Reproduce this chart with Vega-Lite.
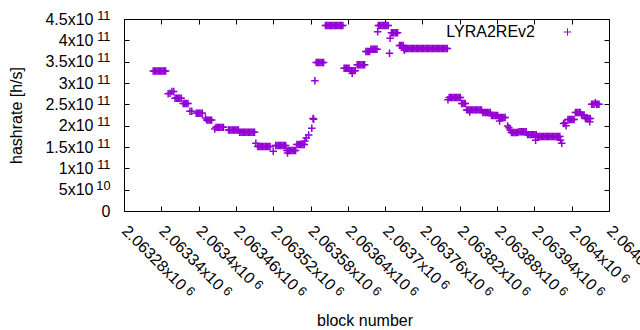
{
"$schema": "https://vega.github.io/schema/vega-lite/v6.json",
"width": 485, "height": 192,
"autosize": {"type": "none"},
"padding": {"left": 124, "top": 19, "right": 31, "bottom": 119},
"background": "white",
"config": {
 "view": {"stroke": "#000", "strokeWidth": 1},
 "font": "Liberation Sans",
 "axis": {"labelFont": "Liberation Sans", "labelFontSize": 16, "labelColor": "#000", "titleFont": "Liberation Sans", "titleFontSize": 16, "titleFontWeight": "normal", "titleColor": "#000", "grid": false, "domain": false, "tickColor": "#000", "tickSize": -5, "tickWidth": 1, "labelOverlap": false, "labelFlush": false, "labelBound": false},
 "legend": {"labelFont": "Liberation Sans", "labelFontSize": 16, "labelColor": "#000"}
},
"data": {"values": [
{"b":2063327,"h":3.28e11},{"b":2063329,"h":3.28e11},{"b":2063331,"h":3.28e11},{"b":2063333,"h":3.28e11},{"b":2063335,"h":3.28e11},{"b":2063337,"h":3.28e11},{"b":2063339,"h":3.28e11},{"b":2063341,"h":3.28e11},{"b":2063343,"h":3.28e11},{"b":2063345,"h":3.28e11},{"b":2063347,"h":3.28e11},
{"b":2063351,"h":2.75e11},{"b":2063354,"h":2.76e11},{"b":2063357,"h":2.8e11},{"b":2063360,"h":2.8e11},
{"b":2063362,"h":2.64e11},{"b":2063364,"h":2.64e11},{"b":2063366,"h":2.64e11},{"b":2063368,"h":2.64e11},{"b":2063370,"h":2.64e11},{"b":2063372,"h":2.64e11},
{"b":2063375,"h":2.52e11},{"b":2063377,"h":2.52e11},{"b":2063379,"h":2.52e11},{"b":2063381,"h":2.52e11},{"b":2063383,"h":2.52e11},
{"b":2063386,"h":2.34e11},{"b":2063389,"h":2.34e11},
{"b":2063396,"h":2.29e11},{"b":2063398,"h":2.29e11},{"b":2063400,"h":2.29e11},{"b":2063402,"h":2.29e11},{"b":2063404,"h":2.29e11},{"b":2063406,"h":2.29e11},
{"b":2063411,"h":2.18e11},
{"b":2063413,"h":2.13e11},{"b":2063415,"h":2.13e11},{"b":2063417,"h":2.13e11},{"b":2063419,"h":2.13e11},{"b":2063421,"h":2.13e11},
{"b":2063426,"h":1.92e11},{"b":2063428,"h":1.96e11},{"b":2063430,"h":1.96e11},{"b":2063432,"h":1.96e11},{"b":2063434,"h":1.96e11},{"b":2063436,"h":1.96e11},{"b":2063438,"h":1.96e11},{"b":2063440,"h":1.96e11},
{"b":2063448,"h":1.9e11},{"b":2063450,"h":1.9e11},{"b":2063452,"h":1.9e11},{"b":2063454,"h":1.9e11},{"b":2063456,"h":1.9e11},{"b":2063458,"h":1.9e11},{"b":2063460,"h":1.9e11},{"b":2063462,"h":1.9e11},{"b":2063464,"h":1.9e11},
{"b":2063466,"h":1.845e11},{"b":2063468,"h":1.845e11},{"b":2063470,"h":1.845e11},{"b":2063472,"h":1.845e11},{"b":2063474,"h":1.845e11},{"b":2063476,"h":1.845e11},{"b":2063478,"h":1.845e11},{"b":2063480,"h":1.845e11},{"b":2063482,"h":1.845e11},{"b":2063484,"h":1.845e11},{"b":2063486,"h":1.845e11},{"b":2063488,"h":1.845e11},{"b":2063490,"h":1.845e11},
{"b":2063492,"h":1.59e11},
{"b":2063495,"h":1.51e11},{"b":2063497,"h":1.51e11},{"b":2063499,"h":1.51e11},{"b":2063501,"h":1.51e11},{"b":2063503,"h":1.51e11},{"b":2063505,"h":1.51e11},{"b":2063507,"h":1.51e11},{"b":2063509,"h":1.51e11},{"b":2063511,"h":1.51e11},{"b":2063513,"h":1.51e11},{"b":2063515,"h":1.51e11},
{"b":2063520,"h":1.4e11},
{"b":2063524,"h":1.535e11},{"b":2063526,"h":1.535e11},{"b":2063528,"h":1.535e11},{"b":2063530,"h":1.535e11},{"b":2063532,"h":1.535e11},{"b":2063534,"h":1.535e11},{"b":2063536,"h":1.535e11},{"b":2063538,"h":1.535e11},{"b":2063540,"h":1.535e11},
{"b":2063542,"h":1.42e11},{"b":2063543,"h":1.36e11},{"b":2063544,"h":1.42e11},{"b":2063546,"h":1.42e11},{"b":2063548,"h":1.42e11},{"b":2063550,"h":1.42e11},{"b":2063552,"h":1.42e11},{"b":2063554,"h":1.42e11},{"b":2063556,"h":1.42e11},
{"b":2063558,"h":1.56e11},{"b":2063560,"h":1.56e11},{"b":2063562,"h":1.56e11},{"b":2063564,"h":1.56e11},{"b":2063566,"h":1.56e11},{"b":2063568,"h":1.56e11},{"b":2063570,"h":1.56e11},
{"b":2063571,"h":1.64e11},{"b":2063573,"h":1.71e11},{"b":2063577,"h":1.78e11},{"b":2063582,"h":1.94e11},{"b":2063584,"h":2.17e11},{"b":2063585,"h":2.15e11},{"b":2063587,"h":3.05e11},
{"b":2063589,"h":3.48e11},{"b":2063591,"h":3.48e11},{"b":2063593,"h":3.48e11},{"b":2063595,"h":3.48e11},{"b":2063597,"h":3.48e11},{"b":2063599,"h":3.48e11},{"b":2063601,"h":3.48e11},
{"b":2063604,"h":4.35e11},{"b":2063606,"h":4.35e11},{"b":2063608,"h":4.35e11},{"b":2063610,"h":4.35e11},{"b":2063612,"h":4.35e11},{"b":2063614,"h":4.35e11},{"b":2063616,"h":4.35e11},{"b":2063618,"h":4.35e11},{"b":2063620,"h":4.35e11},{"b":2063622,"h":4.35e11},{"b":2063624,"h":4.35e11},{"b":2063626,"h":4.35e11},{"b":2063628,"h":4.35e11},{"b":2063630,"h":4.35e11},{"b":2063632,"h":4.35e11},
{"b":2063634,"h":3.345e11},{"b":2063636,"h":3.345e11},{"b":2063638,"h":3.345e11},{"b":2063640,"h":3.345e11},{"b":2063642,"h":3.345e11},
{"b":2063644,"h":3.29e11},{"b":2063646,"h":3.29e11},{"b":2063647,"h":3.23e11},{"b":2063648,"h":3.29e11},{"b":2063650,"h":3.29e11},{"b":2063652,"h":3.29e11},
{"b":2063655,"h":3.43e11},{"b":2063657,"h":3.43e11},{"b":2063659,"h":3.43e11},{"b":2063661,"h":3.43e11},{"b":2063663,"h":3.43e11},{"b":2063665,"h":3.43e11},{"b":2063667,"h":3.43e11},
{"b":2063669,"h":3.74e11},{"b":2063671,"h":3.74e11},{"b":2063673,"h":3.74e11},{"b":2063675,"h":3.74e11},
{"b":2063677,"h":3.79e11},{"b":2063679,"h":3.79e11},{"b":2063681,"h":3.79e11},{"b":2063683,"h":3.79e11},{"b":2063685,"h":3.79e11},{"b":2063687,"h":3.79e11},
{"b":2063688,"h":4.2e11},
{"b":2063689,"h":4.35e11},{"b":2063691,"h":4.35e11},{"b":2063693,"h":4.35e11},{"b":2063695,"h":4.35e11},{"b":2063697,"h":4.35e11},{"b":2063699,"h":4.35e11},{"b":2063701,"h":4.35e11},{"b":2063703,"h":4.35e11},{"b":2063705,"h":4.35e11},
{"b":2063707,"h":3.7e11},{"b":2063708,"h":4.05e11},
{"b":2063710,"h":4.18e11},{"b":2063712,"h":4.18e11},{"b":2063714,"h":4.18e11},{"b":2063716,"h":4.18e11},{"b":2063718,"h":4.18e11},{"b":2063720,"h":4.18e11},
{"b":2063723,"h":3.88e11},{"b":2063725,"h":3.88e11},{"b":2063727,"h":3.88e11},{"b":2063729,"h":3.88e11},
{"b":2063730,"h":3.81e11},{"b":2063731,"h":3.77e11},{"b":2063732,"h":3.81e11},{"b":2063734,"h":3.81e11},{"b":2063736,"h":3.81e11},{"b":2063738,"h":3.81e11},{"b":2063740,"h":3.81e11},{"b":2063742,"h":3.81e11},{"b":2063744,"h":3.81e11},{"b":2063746,"h":3.81e11},{"b":2063748,"h":3.81e11},{"b":2063750,"h":3.81e11},{"b":2063752,"h":3.81e11},{"b":2063754,"h":3.81e11},{"b":2063756,"h":3.81e11},{"b":2063758,"h":3.81e11},{"b":2063760,"h":3.81e11},{"b":2063762,"h":3.81e11},{"b":2063764,"h":3.81e11},{"b":2063766,"h":3.81e11},{"b":2063768,"h":3.81e11},{"b":2063770,"h":3.81e11},{"b":2063772,"h":3.81e11},{"b":2063774,"h":3.81e11},{"b":2063776,"h":3.81e11},{"b":2063778,"h":3.81e11},{"b":2063780,"h":3.81e11},{"b":2063782,"h":3.81e11},{"b":2063784,"h":3.81e11},{"b":2063786,"h":3.81e11},{"b":2063788,"h":3.81e11},{"b":2063790,"h":3.81e11},{"b":2063792,"h":3.81e11},{"b":2063794,"h":3.81e11},{"b":2063796,"h":3.81e11},{"b":2063798,"h":3.81e11},{"b":2063800,"h":3.81e11},
{"b":2063801,"h":2.61e11},
{"b":2063803,"h":2.66e11},{"b":2063805,"h":2.66e11},{"b":2063807,"h":2.66e11},{"b":2063809,"h":2.66e11},{"b":2063811,"h":2.66e11},{"b":2063813,"h":2.66e11},{"b":2063815,"h":2.66e11},{"b":2063817,"h":2.66e11},{"b":2063819,"h":2.66e11},{"b":2063821,"h":2.66e11},
{"b":2063823,"h":2.52e11},{"b":2063825,"h":2.52e11},{"b":2063827,"h":2.52e11},{"b":2063829,"h":2.52e11},
{"b":2063831,"h":2.37e11},{"b":2063833,"h":2.37e11},{"b":2063835,"h":2.37e11},{"b":2063836,"h":2.32e11},{"b":2063837,"h":2.37e11},{"b":2063839,"h":2.37e11},{"b":2063841,"h":2.37e11},{"b":2063843,"h":2.37e11},{"b":2063845,"h":2.37e11},{"b":2063847,"h":2.37e11},{"b":2063849,"h":2.37e11},{"b":2063851,"h":2.37e11},{"b":2063853,"h":2.37e11},{"b":2063855,"h":2.37e11},
{"b":2063857,"h":2.31e11},{"b":2063859,"h":2.31e11},{"b":2063861,"h":2.31e11},{"b":2063863,"h":2.31e11},{"b":2063865,"h":2.31e11},{"b":2063867,"h":2.31e11},{"b":2063869,"h":2.31e11},
{"b":2063871,"h":2.24e11},{"b":2063873,"h":2.24e11},{"b":2063875,"h":2.24e11},{"b":2063877,"h":2.24e11},{"b":2063879,"h":2.24e11},{"b":2063881,"h":2.24e11},
{"b":2063883,"h":2.19e11},{"b":2063884,"h":2.11e11},{"b":2063885,"h":2.19e11},{"b":2063887,"h":2.19e11},{"b":2063889,"h":2.19e11},{"b":2063891,"h":2.19e11},{"b":2063893,"h":2.19e11},
{"b":2063897,"h":1.99e11},{"b":2063899,"h":1.95e11},{"b":2063901,"h":1.9e11},
{"b":2063903,"h":1.84e11},{"b":2063905,"h":1.84e11},{"b":2063907,"h":1.84e11},{"b":2063909,"h":1.84e11},{"b":2063911,"h":1.84e11},{"b":2063913,"h":1.84e11},
{"b":2063915,"h":1.86e11},{"b":2063917,"h":1.86e11},{"b":2063919,"h":1.86e11},{"b":2063921,"h":1.86e11},{"b":2063923,"h":1.86e11},{"b":2063925,"h":1.86e11},{"b":2063927,"h":1.86e11},
{"b":2063929,"h":1.79e11},{"b":2063931,"h":1.79e11},{"b":2063933,"h":1.79e11},{"b":2063935,"h":1.79e11},{"b":2063937,"h":1.79e11},{"b":2063939,"h":1.79e11},{"b":2063941,"h":1.79e11},{"b":2063942,"h":1.66e11},{"b":2063943,"h":1.79e11},
{"b":2063945,"h":1.745e11},{"b":2063947,"h":1.745e11},{"b":2063949,"h":1.745e11},{"b":2063951,"h":1.745e11},{"b":2063953,"h":1.745e11},{"b":2063955,"h":1.745e11},{"b":2063957,"h":1.745e11},{"b":2063959,"h":1.745e11},{"b":2063961,"h":1.745e11},{"b":2063963,"h":1.745e11},{"b":2063965,"h":1.745e11},{"b":2063967,"h":1.745e11},{"b":2063969,"h":1.745e11},{"b":2063971,"h":1.745e11},{"b":2063973,"h":1.745e11},{"b":2063975,"h":1.745e11},{"b":2063977,"h":1.745e11},{"b":2063979,"h":1.745e11},{"b":2063981,"h":1.745e11},
{"b":2063982,"h":1.66e11},{"b":2063984,"h":1.59e11},
{"b":2063987,"h":2.05e11},{"b":2063989,"h":2.06e11},{"b":2063991,"h":2.0e11},
{"b":2063994,"h":2.145e11},{"b":2063996,"h":2.145e11},{"b":2063998,"h":2.145e11},{"b":2064000,"h":2.145e11},{"b":2064002,"h":2.145e11},{"b":2064004,"h":2.145e11},
{"b":2064006,"h":2.31e11},{"b":2064008,"h":2.31e11},{"b":2064010,"h":2.31e11},{"b":2064012,"h":2.31e11},{"b":2064014,"h":2.31e11},
{"b":2064016,"h":2.25e11},{"b":2064018,"h":2.25e11},{"b":2064020,"h":2.25e11},
{"b":2064022,"h":2.17e11},{"b":2064024,"h":2.17e11},{"b":2064026,"h":2.17e11},{"b":2064028,"h":2.17e11},{"b":2064029,"h":2.09e11},{"b":2064030,"h":2.17e11},
{"b":2064032,"h":2.5e11},{"b":2064034,"h":2.5e11},{"b":2064036,"h":2.5e11},{"b":2064038,"h":2.54e11},{"b":2064040,"h":2.5e11},{"b":2064042,"h":2.5e11},{"b":2064044,"h":2.5e11}
]},
"layer": [
 {
  "mark": {"type": "point", "shape": "M-1,0H1M0,-1V1", "size": 56, "strokeWidth": 1.5, "filled": false, "opacity": 1},
  "encoding": {
   "x": {"field": "b", "type": "quantitative",
    "scale": {"domain": [2063280, 2064060], "nice": false, "zero": false},
    "axis": {"orient": "bottom", "values": [2063280,2063340,2063400,2063460,2063520,2063580,2063640,2063700,2063760,2063820,2063880,2063940,2064000,2064060],
     "labelExpr": "(datum.value/1e6) + 'x10'",
     "labelAngle": 45, "labelAlign": "left", "labelBaseline": "middle", "labelPadding": 22,
     "title": "block number", "titleX": 240.5, "titleY": 114.5, "titleBaseline": "alphabetic", "titleAlign": "center"}},
   "y": {"field": "h", "type": "quantitative",
    "scale": {"domain": [0, 4.5e11], "nice": false, "zero": true},
    "axis": {"orient": "left", "values": [0,5e10,1e11,1.5e11,2e11,2.5e11,3e11,3.5e11,4e11,4.5e11],
     "labelExpr": "datum.value == 0 ? '' : (datum.value < 1e11 ? '5x10' : (datum.value/1e11) + 'x10')",
     "labelAlign": "right", "labelBaseline": "middle", "labelPadding": 36,
     "title": "hashrate [h/s]", "titleX": -103, "titleY": 96, "titleAngle": -90, "titleBaseline": "alphabetic", "titleAlign": "center"}},
   "color": {"datum": "LYRA2REv2", "type": "nominal", "scale": {"range": ["#9400d3"]},
    "legend": {"orient": "none", "legendX": 435.5, "legendY": 5, "title": null, "padding": 0,
     "symbolType": "M-1,0H1M0,-1V1", "symbolSize": 56, "symbolStrokeWidth": 1, "symbolFillColor": "transparent",
     "labelAlign": "right", "labelOffset": -40.5}}
  }
 },
 {
  "mark": {"type": "point", "opacity": 0},
  "encoding": {
   "x": {"field": "b", "type": "quantitative",
    "axis": {"orient": "top", "values": [2063280,2063340,2063400,2063460,2063520,2063580,2063640,2063700,2063760,2063820,2063880,2063940,2064000,2064060], "labels": false, "title": null}},
   "y": {"field": "h", "type": "quantitative",
    "axis": {"orient": "right", "values": [0,5e10,1e11,1.5e11,2e11,2.5e11,3e11,3.5e11,4e11,4.5e11], "labels": false, "title": null}}
  }
 },
 {
  "mark": {"type": "point", "opacity": 0},
  "encoding": {
   "x": {"field": "b", "type": "quantitative",
    "axis": {"orient": "bottom", "values": [2063280,2063340,2063400,2063460,2063520,2063580,2063640,2063700,2063760,2063820,2063880,2063940,2064000,2064060], "ticks": false, "title": null,
     "labelExpr": "'6'", "labelFontSize": 12.8, "labelAngle": 45, "labelAlign": "left", "labelBaseline": "alphabetic",
     "labelOffset": {"expr": "(datum.value == 2063400 || datum.value == 2063700) ? 54.1 : (datum.value == 2064000 ? 47.8 : 60.45)"},
     "labelPadding": {"expr": "(datum.value == 2063400 || datum.value == 2063700) ? 73.8 : (datum.value == 2064000 ? 67.5 : 80.15)"}}},
   "y": {"field": "h", "type": "quantitative",
    "axis": {"orient": "left", "values": [0,5e10,1e11,1.5e11,2e11,2.5e11,3e11,3.5e11,4e11,4.5e11], "ticks": false, "title": null,
     "labelExpr": "datum.value == 0 ? '0' : (datum.value < 1e11 ? '10' : '11')",
     "labelAlign": "right", "labelPadding": 14,
     "labelFontSize": {"condition": {"test": "datum.value == 0", "value": 16}, "value": 12.8},
     "labelBaseline": {"condition": {"test": "datum.value == 0", "value": "middle"}, "value": "alphabetic"}}}
  }
 }
],
"resolve": {"axis": {"x": "independent", "y": "independent"}}
}
